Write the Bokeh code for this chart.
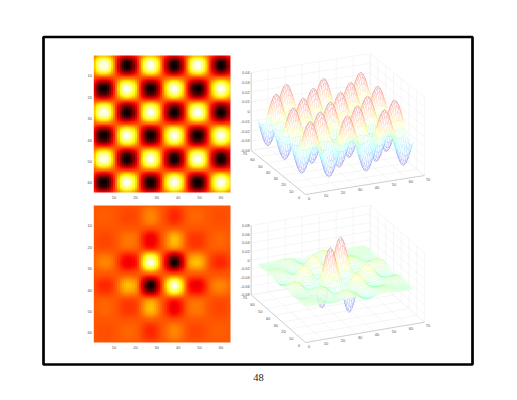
import numpy as np
from bokeh.embed import file_html
from bokeh.resources import INLINE
from bokeh.plotting import figure
from bokeh.models import Range1d, LinearAxis, FixedTicker, LinearColorMapper
from bokeh.core.properties import value

# ---------- values ----------
grid_positions = list(range(1, 65))
# profile across the upper surface (its values multiply along rows and columns)
upper_profile = [.064,.106,.141,.163,.173,.168,.150,.119,.078,.032,-.018,-.066,-.108,-.143,-.164,-.173,
                 -.167,-.148,-.117,-.075,-.028,.021,.069,.111,.144,.165,.173,.166,.146,.114,.072,.025,
                 -.025,-.072,-.114,-.146,-.166,-.173,-.165,-.144,-.111,-.069,-.021,.028,.075,.117,.148,.167,
                 .173,.164,.143,.108,.066,.018,-.032,-.078,-.119,-.150,-.168,-.173,-.163,-.141,-.106,-.064]
# profile across the lower surface
lower_profile = [.015,.024,.032,.038,.042,.042,.04,.034,.025,.012,-.005,-.025,-.048,-.068,-.082,-.09,
                 -.09,-.087,-.075,-.055,-.02,.035,.10,.165,.225,.265,.28,.265,.22,.16,.09,.03,
                 -.03,-.09,-.16,-.22,-.265,-.28,-.265,-.225,-.165,-.10,-.035,.02,.055,.075,.087,.09,
                 .09,.082,.068,.048,.025,.005,-.012,-.025,-.034,-.04,-.042,-.042,-.038,-.032,-.024,-.015]
image_ticks = [10,20,30,40,50,60]
surface_ticks = [0,10,20,30,40,50,60,70]
upper_z_ticks = [-.04,-.03,-.02,-.01,0,.01,.02,.03,.04]
upper_z_labels = ["-0.04","-0.03","-0.02","-0.01","0","0.01","0.02","0.03","0.04"]
lower_z_ticks = [-.08,-.06,-.04,-.02,0,.02,.04,.06,.08]
lower_z_labels = ["-0.08","-0.06","-0.04","-0.02","0","0.02","0.04","0.06","0.08"]
page_number = "48"

upper_z = np.outer(upper_profile, upper_profile)
lower_z = np.outer(lower_profile, lower_profile)
gx = np.array(grid_positions, float)

# ---------- colour maps ----------
def hex_rgb(r, g, b):
    return "#%02x%02x%02x" % (int(r*255+.5), int(g*255+.5), int(b*255+.5))
def hot(t):
    return hex_rgb(min(t/.375,1), float(np.clip((t-.375)/.375,0,1)), float(np.clip((t-.75)/.25,0,1)))
def jet(t):
    c = lambda v: float(np.clip(1.5-abs(4*t-v),0,1))
    return hex_rgb(c(3),c(2),c(1))
hot_palette = [hot(i/255) for i in range(256)]

# ---------- page ----------
W, H = 501, 384
p = figure(width=W, height=H, output_backend="svg", toolbar_location=None,
           x_range=Range1d(0,W), y_range=Range1d(H,0),
           x_axis_location=None, y_axis_location=None, min_border=0,
           outline_line_color=None, background_fill_color="white", border_fill_color="white")
p.grid.visible = False

def page_x_range(px0, px1):
    s = 64/(px1-px0)
    return Range1d(.5-px0*s, .5+(W-px0)*s)
def page_y_range(px0, px1):
    s = 64/(px1-px0)
    return Range1d(.5+(H-px0)*s, .5-px0*s)

p.extra_x_ranges = {"img_x": page_x_range(93.3,230)}
p.extra_y_ranges = {"img_y1": page_y_range(55,192), "img_y2": page_y_range(205,342)}

p.quad(left=[43],right=[472],top=[36.5],bottom=[364],fill_color=None,line_color="black",line_width=2.7)
p.text([258],[377],text=[page_number],text_font=value("Liberation Serif"),text_font_size="10.5px",
       text_align="center",text_baseline="middle",text_color="#222222")

def image_panel(z, clim, yname, xaxis_at):
    p.image(image=[z], x=.5, y=.5, dw=64, dh=64, x_range_name="img_x", y_range_name=yname,
            color_mapper=LinearColorMapper(palette=hot_palette, low=-clim, high=clim))
    xa = LinearAxis(x_range_name="img_x", fixed_location=xaxis_at, ticker=FixedTicker(ticks=image_ticks))
    ya = LinearAxis(y_range_name=yname, fixed_location=92.5, ticker=FixedTicker(ticks=image_ticks))
    for a in (xa, ya):
        a.axis_line_color = None
        a.major_tick_line_color = None
        a.minor_tick_line_color = None
        a.major_tick_in = 0
        a.major_tick_out = 0
        a.minor_tick_in = 0
        a.minor_tick_out = 0
        a.major_label_text_font = "Liberation Sans"
        a.major_label_text_font_size = "4px"
        a.major_label_text_color = "#555555"
        a.major_label_standoff = 1
    p.add_layout(xa, "below")
    p.add_layout(ya, "left")

image_panel(upper_z, .03, "img_y1", 194)
image_panel(lower_z, .08, "img_y2", 344)

def surface_panel(z, clim, zticks, zlabels, front, right, left, zbot, ztop):
    zmin, zmax = zticks[0], zticks[-1]
    fx, fy = front
    def proj(x, y, zz):
        px = fx + np.asarray(x)/70*(right[0]-fx) + np.asarray(y)/70*(left[0]-fx)
        py = fy + np.asarray(x)/70*(right[1]-fy) + np.asarray(y)/70*(left[1]-fy)
        py = py - (np.asarray(zz)-zmin)/(zmax-zmin)*(zbot-ztop)
        return px, py
    gxs, gys = [], []
    def seg(a, b):
        xs, ys = proj([a[0],b[0]],[a[1],b[1]],[a[2],b[2]])
        gxs.append(list(map(float,xs))); gys.append(list(map(float,ys)))
    for t in surface_ticks:
        seg((t,0,zmin),(t,70,zmin)); seg((0,t,zmin),(70,t,zmin))
        seg((t,70,zmin),(t,70,zmax)); seg((70,t,zmin),(70,t,zmax))
    for zt in zticks:
        seg((0,70,zt),(70,70,zt)); seg((70,0,zt),(70,70,zt))
    p.multi_line(gxs, gys, line_color="#ececec", line_width=.5)

    qx, qy, qc = [], [], []
    n = len(gx)
    for i in range(n-2, -1, -1):       # rows, far to near
        for j in range(n-2, -1, -1):   # columns, far to near
            xq = [gx[j],gx[j+1],gx[j+1],gx[j]]
            yq = [gx[i],gx[i],gx[i+1],gx[i+1]]
            zq = [z[i,j],z[i,j+1],z[i+1,j+1],z[i+1,j]]
            a, b = proj(xq,yq,zq)
            qx.append(list(map(float,a))); qy.append(list(map(float,b)))
            qc.append(jet(float(np.clip((np.mean(zq)+clim)/(2*clim),0,1))))
    p.patches(qx, qy, fill_color="white", line_color=qc, line_width=.25, line_alpha=.42)

    axx, axy = [], []
    for a, b in [((0,0,zmin),(70,0,zmin)), ((0,0,zmin),(0,70,zmin)), ((0,70,zmin),(0,70,zmax))]:
        xs, ys = proj([a[0],b[0]],[a[1],b[1]],[a[2],b[2]])
        axx.append(list(map(float,xs))); axy.append(list(map(float,ys)))
    p.multi_line(axx, axy, line_color="#a8a8a8", line_width=.5)

    style = dict(text_font=value("Liberation Sans"), text_font_size="4px", text_color="#555555",
                 text_baseline="middle")
    t = np.array(surface_ticks, float)
    a, b = proj(t, 0*t, zmin+0*t)
    p.text(a+3.5, b+3.5, text=[str(v) for v in surface_ticks], text_align="center", **style)
    a, b = proj(0*t, t, zmin+0*t)
    p.text(a-6.5, b+3, text=[str(v) for v in surface_ticks], text_align="center", **style)
    zt = np.array(zticks, float)
    a, b = proj(0*zt, 70+0*zt, zt)
    p.text(a-1.5, b, text=zlabels, text_align="right", **style)

surface_panel(upper_z, .03, upper_z_ticks, upper_z_labels, (305,194), (424,175), (250.7,150), 150, 72)
surface_panel(lower_z, .08, lower_z_ticks, lower_z_labels, (305,342), (424,321.7), (250.7,294.3), 294.3, 225)

open("out.html", "w").write(file_html(p, INLINE))
